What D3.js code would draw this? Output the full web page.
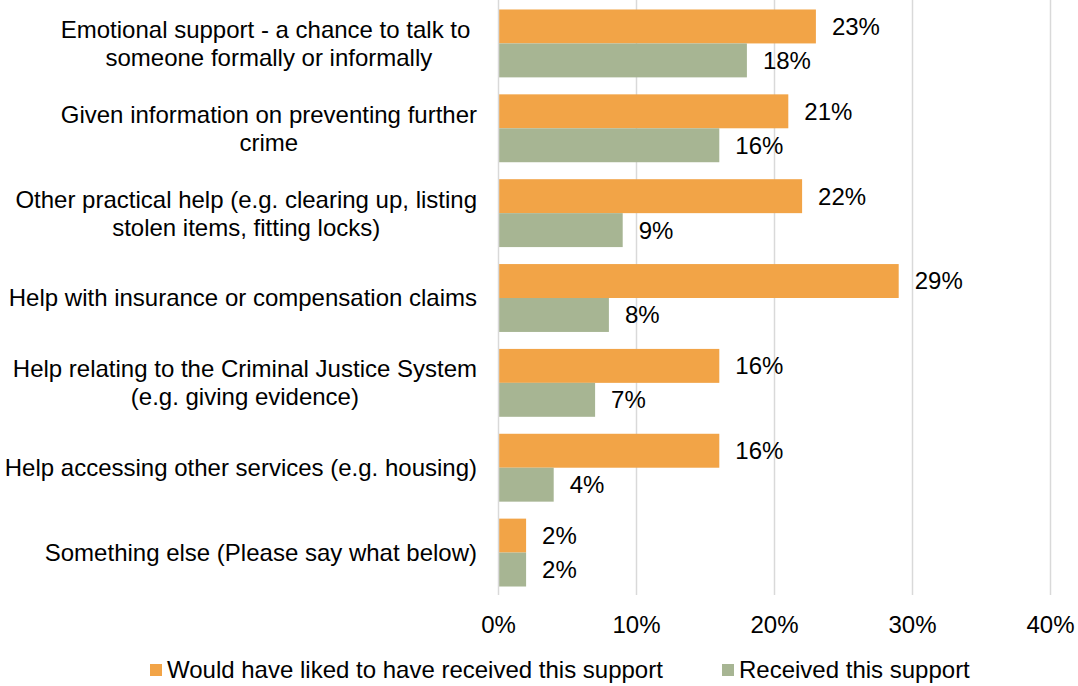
<!DOCTYPE html>
<html>
<head>
<meta charset="utf-8">
<script src="https://cdn.jsdelivr.net/npm/d3@7"></script>
<style>
  html, body { margin: 0; padding: 0; background: #fff; }
  text { font-family: "Liberation Sans", Arial, sans-serif; fill: #000; }
</style>
</head>
<body>
<svg id="chart" width="1078" height="686"></svg>
<script>
// Support types (line breaks as shown in the category labels)
const categories = [
  "Emotional support - a chance to talk to \nsomeone formally or informally",
  "Given information on preventing further\ncrime",
  "Other practical help (e.g. clearing up, listing\nstolen items, fitting locks)",
  "Help with insurance or compensation claims",
  "Help relating to the Criminal Justice System\n(e.g. giving evidence)",
  "Help accessing other services (e.g. housing)",
  "Something else (Please say what below)"
];
const seriesNames = ["Would have liked to have received this support", "Received this support"];
const wouldLike = [0.23, 0.21, 0.22, 0.29, 0.16, 0.16, 0.02];
const received  = [0.18, 0.16, 0.09, 0.08, 0.07, 0.04, 0.02];
const xTicks = [0, 0.1, 0.2, 0.3, 0.4];
const colors = ["#F2A447", "#A7B593"];

const svg = d3.select("#chart");
const fontSize = 24;
const fmt = d3.format(".0%");

const x = d3.scaleLinear().domain([0, 0.4]).range([498.5, 1050.5]);
const y = d3.scaleBand().domain(d3.range(categories.length)).range([1, 595])
  .paddingInner(0.2).paddingOuter(0.1);
const ySub = d3.scaleBand().domain([0, 1]).range([0, y.bandwidth()]);

// Gridlines
svg.append("g").selectAll("line").data(xTicks.slice(1)).join("line")
  .attr("x1", d => x(d)).attr("x2", d => x(d))
  .attr("y1", 0).attr("y2", 595)
  .attr("stroke", "#D9D9D9").attr("stroke-width", 1.5);

const rows = categories.map((c, i) => ({ i, vals: [wouldLike[i], received[i]] }));

// Bars
const gRows = svg.append("g").selectAll("g").data(rows).join("g")
  .attr("transform", d => `translate(0,${y(d.i)})`);
gRows.selectAll("rect").data(d => d.vals.map((v, s) => ({ v, s }))).join("rect")
  .attr("x", x(0))
  .attr("y", d => ySub(d.s))
  .attr("width", d => x(d.v) - x(0))
  .attr("height", ySub.bandwidth())
  .attr("fill", d => colors[d.s]);

// Value labels
gRows.selectAll("text").data(d => d.vals.map((v, s) => ({ v, s }))).join("text")
  .attr("x", d => x(d.v) + 16)
  .attr("y", d => ySub(d.s) + ySub.bandwidth() / 2)
  .attr("dy", "0.35em")
  .attr("font-size", fontSize)
  .text(d => fmt(d.v));

// Vertical axis line at 0
svg.append("line")
  .attr("x1", x(0)).attr("x2", x(0)).attr("y1", 0).attr("y2", 595)
  .attr("stroke", "#D9D9D9").attr("stroke-width", 1.5);

// Category labels: lines centred on each other, block right-aligned
const labelRight = 477;
const lineH = 28;
const gLab = svg.append("g");
categories.forEach((c, i) => {
  const lines = c.split("\n");
  const cy = y(i) + y.bandwidth() / 2;
  const t = gLab.append("text").attr("font-size", fontSize)
    .attr("text-anchor", "middle").style("white-space", "pre");
  lines.forEach((ln, k) => {
    t.append("tspan").text(ln)
      .attr("y", cy + (k - (lines.length - 1) / 2) * lineH)
      .attr("dy", "0.35em");
  });
  const widths = [];
  t.selectAll("tspan").each(function () { widths.push(this.getComputedTextLength()); });
  const cx = labelRight - d3.max(widths) / 2;
  t.selectAll("tspan").attr("x", cx);
});

// X axis tick labels
svg.append("g").selectAll("text").data(xTicks).join("text")
  .attr("x", d => x(d)).attr("y", 625).attr("dy", "0.35em")
  .attr("text-anchor", "middle").attr("font-size", fontSize)
  .text(d => fmt(d));

// Legend
const legendX = [150, 722];
const lg = svg.append("g").selectAll("g").data(seriesNames).join("g")
  .attr("transform", (d, i) => `translate(${legendX[i]},670)`);
lg.append("rect").attr("x", 0).attr("y", -6).attr("width", 12).attr("height", 12)
  .attr("fill", (d, i) => colors[i]);
lg.append("text").attr("x", 17).attr("y", 0).attr("dy", "0.35em")
  .attr("font-size", fontSize).text(d => d);
</script>
</body>
</html>
